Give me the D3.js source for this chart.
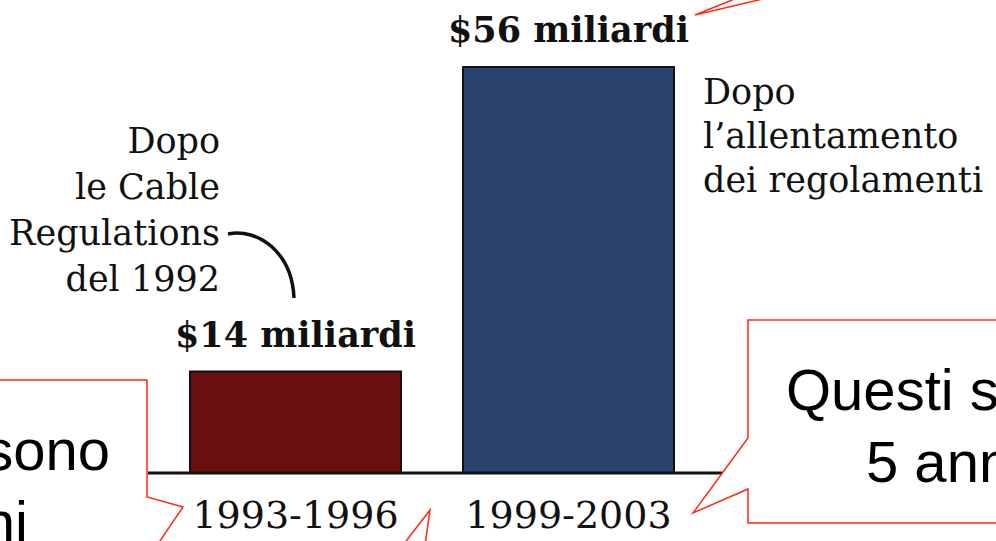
<!DOCTYPE html>
<html>
<head>
<meta charset="utf-8">
<script src="https://cdn.jsdelivr.net/npm/d3@7"></script>
<style>
  body { margin: 0; background: #fff; overflow: hidden; }
  svg { display: block; }
</style>
</head>
<body>
<div id="chart"></div>
<script>
let width = 996;
let height = 541;

// data
let periods = ["1993-1996", "1999-2003"];
let values = [14, 56];
let valueLabels = ["$14 miliardi", "$56 miliardi"];
let barColors = ["#6a1010", "#2c426f"];
let leftNote = ["Dopo", "le Cable", "Regulations", "del 1992"];
let rightNote = ["Dopo", "l\u2019allentamento", "dei regolamenti"];

let serif = "'DejaVu Serif', 'Liberation Serif', serif";
let sans = "'Liberation Sans', Arial, sans-serif";

let svg = d3.select("#chart")
    .append("svg")
    .attr("width", width)
    .attr("height", height);

let xScale = d3.scaleBand()
    .domain(periods)
    .range([190, 674])
    .paddingInner(0.227)
    .paddingOuter(0);

let yScale = d3.scaleLinear()
    .domain([0, 56])
    .range([473, 67]);

// bars
svg.selectAll(".bar")
    .data(periods)
    .enter()
    .append("rect")
    .attr("class", "bar")
    .attr("x", d => xScale(d))
    .attr("y", (d, i) => yScale(values[i]))
    .attr("width", xScale.bandwidth())
    .attr("height", (d, i) => yScale(0) - yScale(values[i]))
    .attr("fill", (d, i) => barColors[i])
    .attr("stroke", "#111")
    .attr("stroke-width", 2);

// baseline
svg.append("line")
    .attr("x1", 148).attr("x2", 722)
    .attr("y1", yScale(0)).attr("y2", yScale(0))
    .attr("stroke", "#111")
    .attr("stroke-width", 3);

// x axis labels
let xAxis = d3.axisBottom(xScale).tickSize(0).tickPadding(0);
let gx = svg.append("g")
    .attr("transform", "translate(0," + yScale(0) + ")")
    .call(xAxis);
gx.select(".domain").remove();
gx.selectAll("text")
    .attr("y", 55)
    .attr("dy", 0)
    .style("font-family", serif)
    .style("font-size", "38px")
    .attr("fill", "#111");

// value labels above bars
svg.selectAll(".vlabel")
    .data(periods)
    .enter()
    .append("text")
    .attr("class", "vlabel")
    .attr("x", d => xScale(d) + xScale.bandwidth() / 2)
    .attr("y", (d, i) => yScale(values[i]) - 25)
    .attr("text-anchor", "middle")
    .style("font-family", serif)
    .style("font-weight", "bold")
    .style("font-size", "35px")
    .attr("fill", "#111")
    .text((d, i) => valueLabels[i]);

// left annotation
let lt = svg.append("text")
    .attr("text-anchor", "end")
    .style("font-family", serif)
    .style("font-size", "35px")
    .attr("fill", "#111");
lt.selectAll("tspan")
    .data(leftNote)
    .enter()
    .append("tspan")
    .attr("x", 220)
    .attr("y", (d, i) => 153 + i * 46)
    .text(d => d);

// curved arrow from "Regulations" to $14 label
svg.append("path")
    .attr("d", "M228,234 C258,228 292,252 294,298")
    .attr("fill", "none")
    .attr("stroke", "#111")
    .attr("stroke-width", 3.5);

// right annotation
let rt = svg.append("text")
    .attr("text-anchor", "start")
    .style("font-family", serif)
    .style("font-size", "35px")
    .attr("fill", "#111");
rt.selectAll("tspan")
    .data(rightNote)
    .enter()
    .append("tspan")
    .attr("x", 703)
    .attr("y", (d, i) => 104 + i * 44)
    .text(d => d);

// red callout boxes laid over the page
let callouts = svg.append("g")
    .attr("fill", "#fff")
    .attr("stroke", "#ff2a10")
    .attr("stroke-width", 1.5);

callouts.append("path")
    .attr("d", "M-10,380 L147,380 L147,497 L183,507 L147,560 L-10,560 Z");
callouts.append("path")
    .attr("d", "M1010,320 L748,320 L748,438 L693,513 L748,489 L748,523 L1010,523 Z");
callouts.append("path")
    .attr("d", "M403,545 L430,510 L425,545");
callouts.append("path")
    .attr("fill", "none")
    .attr("d", "M737,-2 L695,15 L767,-2");

let calloutText = svg.append("g")
    .style("font-family", sans)
    .style("font-size", "58px")
    .attr("fill", "#000");
calloutText.append("text").attr("x", 110).attr("y", 470).attr("text-anchor", "end").text("sono");
calloutText.append("text").attr("x", 28).attr("y", 542).attr("text-anchor", "end").text("ni");
calloutText.append("text").attr("x", 786).attr("y", 410).text("Questi sono");
calloutText.append("text").attr("x", 866).attr("y", 482).text("5 anni");
</script>
</body>
</html>
